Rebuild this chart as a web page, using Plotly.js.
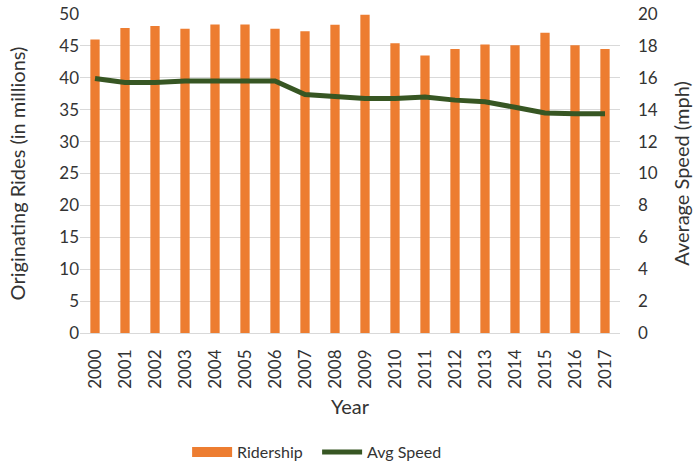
<!DOCTYPE html>
<html>
<head>
<meta charset="utf-8">
<script src="https://cdn.plot.ly/plotly-3.0.1.min.js"></script>
<style>html,body{margin:0;padding:0;background:#fff;}#chart{width:693px;height:465px;}</style>
</head>
<body>
<div id="chart"></div>
<script>
const years = ['2000','2001','2002','2003','2004','2005','2006','2007','2008','2009','2010','2011','2012','2013','2014','2015','2016','2017'];
const ridership = [46.0, 47.8, 48.1, 47.7, 48.35, 48.35, 47.7, 47.3, 48.3, 49.9, 45.4, 43.5, 44.5, 45.2, 45.1, 47.05, 45.1, 44.5];
const avgSpeed = [15.95, 15.7, 15.7, 15.8, 15.8, 15.8, 15.8, 14.95, 14.85, 14.7, 14.7, 14.8, 14.6, 14.5, 14.15, 13.8, 13.75, 13.75];

const fam = 'Lato, "Open Sans", sans-serif';
const col = '#333333';
const orange = '#ED7D31';
const green = '#375623';
const tickFont = {family: fam, size: 17, color: col};
const titleFont = {family: fam, size: 20, color: col};
const legendFont = {family: fam, size: 16, color: col};

const data = [
  {type: 'bar', x: years, y: ridership, name: 'Ridership', marker: {color: orange}, yaxis: 'y', showlegend: false, legendgroup: 'r'},
  {type: 'scatter', mode: 'lines', x: [null], y: [null], name: 'Ridership', line: {color: orange, width: 11}, yaxis: 'y', legendgroup: 'r', hoverinfo: 'skip'},
  {type: 'scatter', mode: 'lines', x: years, y: avgSpeed, name: 'Avg Speed', line: {color: green, width: 5}, yaxis: 'y2'}
];

const layout = {
  width: 693, height: 465,
  margin: {l: 80, r: 73, t: 14, b: 132},
  paper_bgcolor: '#fff', plot_bgcolor: '#fff',
  font: tickFont,
  bargap: 0.69,
  showlegend: true,
  legend: {orientation: 'h', xref: 'container', yref: 'container', x: 0.27, xanchor: 'left', y: 0.028, yanchor: 'middle',
           font: legendFont, traceorder: 'normal', itemwidth: 40, tracegroupgap: 0,
           entrywidth: 75, entrywidthmode: 'pixels'},
  xaxis: {
    type: 'category', tickangle: -90, showgrid: false, zeroline: false, showline: false, ticks: '', automargin: false,
    ticklabelstandoff: 12,
    tickfont: tickFont, title: {text: 'Year', font: titleFont, standoff: 12}
  },
  yaxis: {
    range: [0, 50], dtick: 5, showgrid: true, gridcolor: '#d9d9d9', gridwidth: 1, zeroline: true, zerolinecolor: '#d9d9d9',
    showline: false, ticks: '', tickfont: tickFont, automargin: false,
    title: {text: 'Originating Rides (in millions)', font: titleFont, standoff: 28}
  },
  yaxis2: {
    range: [0, 20], dtick: 2, overlaying: 'y', side: 'right', showgrid: false, zeroline: false, showline: false, ticks: '',
    tickfont: tickFont, automargin: false, ticklabelstandoff: 17,
    title: {text: 'Average Speed (mph)', font: titleFont, standoff: 19}
  }
};

Plotly.newPlot('chart', data, layout, {displayModeBar: false, staticPlot: true});
</script>
</body>
</html>
